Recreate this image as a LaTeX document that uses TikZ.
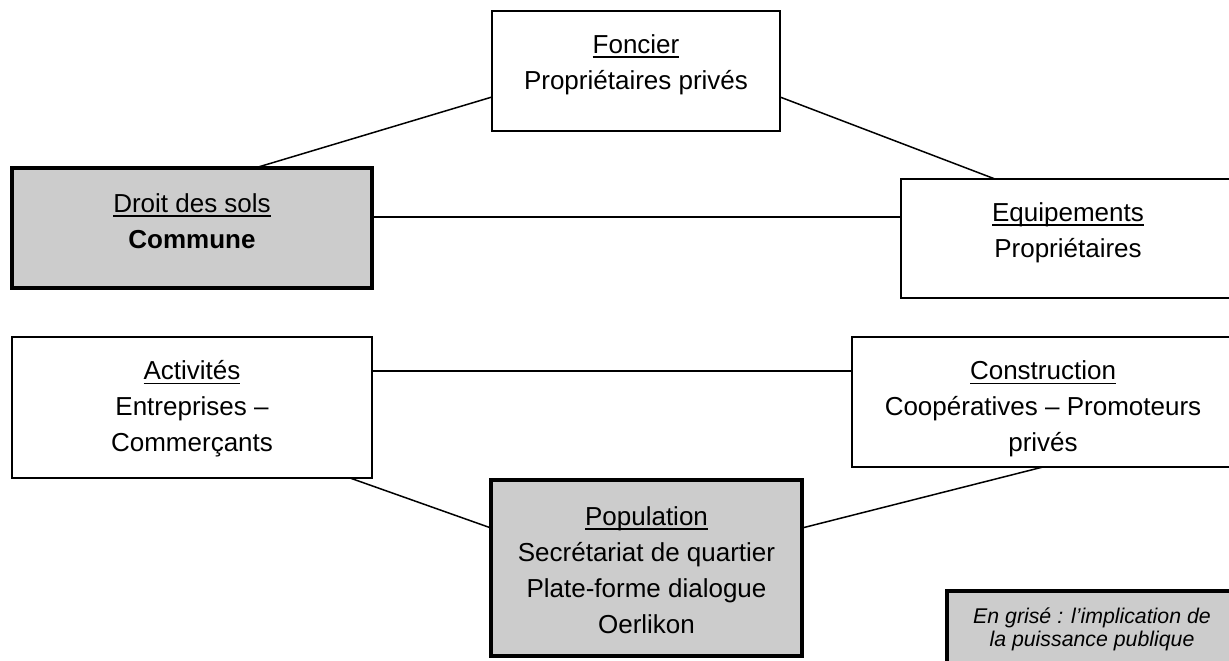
\documentclass[tikz,border=0pt]{standalone}
\usepackage{fontspec}
\setmainfont{Liberation Sans}
\definecolor{boxgray}{RGB}{204,204,204}
% underline at a fixed depth below the baseline
\newcommand\hdline[1]{{\setbox0\hbox{#1}\rlap{\rule[-5pt]{\wd0}{1.8pt}}\box0}}
\tikzset{
  box/.style={draw, line width=1.5pt, fill=white, inner sep=0pt, outer sep=0pt},
  keybox/.style={box, line width=3.3pt, fill=boxgray},
  lbl/.style={anchor=north, inner sep=0pt, align=center, font=\fontsize{26}{36}\selectfont},
  notelbl/.style={anchor=north, inner sep=0pt, align=center, font=\fontsize{21.3}{22}\selectfont\itshape},
  link/.style={line width=1.5pt}
}
\begin{document}
\begin{tikzpicture}[x=1pt, y=-1pt]
\useasboundingbox (0,0) rectangle (1229,661);
\fill[white] (0,0) rectangle (1229,661);
\clip (0,0) rectangle (1229,661);

% boxes
\node[box, minimum width=288pt, minimum height=120pt] (fon) at (636,71) {};
\node[keybox, minimum width=360pt, minimum height=120pt] (dro) at (192,228) {};
\node[box, minimum width=334pt, minimum height=119pt] (equ) at (1068,238.5) {};
\node[box, minimum width=360pt, minimum height=141pt] (act) at (192,407.5) {};
\node[box, minimum width=382pt, minimum height=130pt] (con) at (1043,402) {};
\node[keybox, minimum width=311pt, minimum height=176pt] (pop) at (646.5,568) {};
\node[keybox, line width=3.6pt, minimum width=290pt, minimum height=89pt] (leg) at (1092,635.5) {};

% box texts
\node[lbl] (fonT) at (636,27.8) {\strut\hdline{Foncier}\\Propriétaires privés};
\node[lbl] (droT) at (192,186.8) {\strut\hdline{Droit des sols}\\\textbf{Commune}};
\node[lbl] (equT) at (1068,195.8) {\strut\hdline{Equipements}\\Propriétaires};
\node[lbl] (actT) at (192,354) {\strut\hdline{Activités}\\Entreprises –\\Commerçants};
\node[lbl] (conT) at (1043,354) {\strut\hdline{Construction}\\Coopératives – Promoteurs\\privés};
\node[lbl] (popT) at (646.5,499.8) {\strut\hdline{Population}\\Secrétariat de quartier\\Plate-forme dialogue\\Oerlikon};
\node[notelbl] (legT) at (1092,607.6) {\strut En grisé : l’implication de\\la puissance publique};

% connectors
\draw[link] ([xshift=63pt]dro.north) -- ([yshift=-26pt]fon.west);
\draw[link] ([yshift=-26pt]fon.east) -- ([xshift=-73pt]equ.north);
\draw[link] ([yshift=11pt]dro.east) -- ([yshift=11pt]dro.east -| equ.west);
\draw[link] ([yshift=36.5pt]act.east) -- ([yshift=36.5pt]act.east -| con.west);
\draw[link] ([xshift=158pt]act.south) -- ([yshift=40pt]pop.west);
\draw[link] (con.south) -- ([yshift=40pt]pop.east);
\end{tikzpicture}
\end{document}
